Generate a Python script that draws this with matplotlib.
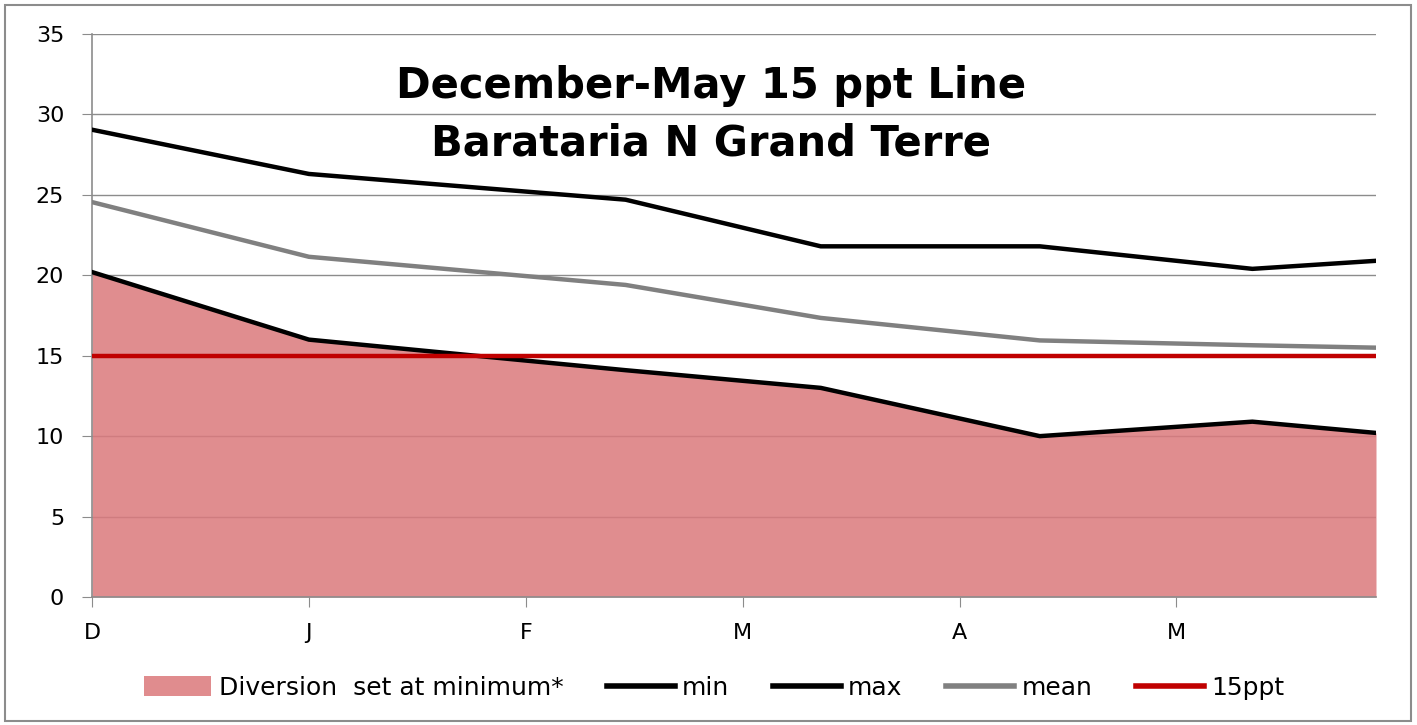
import matplotlib
matplotlib.use("Agg")
import matplotlib.pyplot as plt
from matplotlib.patches import Rectangle, Patch
from matplotlib.lines import Line2D

plt.rcParams['font.family'] = ['DejaVu Sans']

# data (x in months since start of December)
x_pos = [0.0, 1.0, 2.46, 3.36, 4.37, 5.35, 5.92]
min_vals = [20.2, 16.0, 14.1, 13.0, 10.0, 10.9, 10.2]
max_vals = [29.05, 26.3, 24.7, 21.8, 21.8, 20.4, 20.9]
mean_vals = [24.55, 21.15, 19.4, 17.35, 15.95, 15.65, 15.5]
threshold = 15
month_ticks = [0, 1, 2, 3, 4, 5]
month_labels = ['D', 'J', 'F', 'M', 'A', 'M']
title_lines = ['December-May 15 ppt Line', 'Barataria N Grand Terre']
legend_labels = ['Diversion  set at minimum*', 'min', 'max', 'mean', '15ppt']

W, H = 1417, 725
fig = plt.figure(figsize=(W / 100, H / 100), dpi=100)
ax = fig.add_axes([92 / W, 1 - 597 / H, (1376 - 92) / W, (597 - 34) / H])

fill_c = '#E08C8E'
ax.fill_between(x_pos, 0, min_vals, color='#DB7A7D', alpha=0.86, lw=0, zorder=1)
ax.plot(x_pos, min_vals, color='black', lw=3.2, zorder=3, solid_joinstyle='round')
ax.plot(x_pos, max_vals, color='black', lw=3.2, zorder=3, solid_joinstyle='round')
ax.plot(x_pos, mean_vals, color='#808080', lw=3.2, zorder=3, solid_joinstyle='round')
ax.plot([x_pos[0], x_pos[-1]], [threshold, threshold], color='#C00000', lw=3.2, zorder=4)

ax.set_xlim(x_pos[0], x_pos[-1])
ax.set_ylim(0, 35)
ax.set_yticks(range(0, 36, 5))
ax.set_xticks(month_ticks)
ax.set_xticklabels(month_labels)
ax.yaxis.grid(True, color='#8C8C8C', lw=1, zorder=0.5)
ax.set_axisbelow(True)

for s in ['top', 'right']:
    ax.spines[s].set_visible(False)
for s in ['left', 'bottom']:
    ax.spines[s].set_color('#8C8C8C')
    ax.spines[s].set_linewidth(1.2)
ax.tick_params(axis='y', length=7, color='#8C8C8C', labelsize=16, pad=13, direction='out')
ax.tick_params(axis='x', length=7, color='#8C8C8C', labelsize=16, pad=12, direction='out')

fig.text(711 / W, 1 - 98 / H, title_lines[0], ha='center', va='baseline',
         fontsize=30, fontweight='bold')
fig.text(711 / W, 1 - 155 / H, title_lines[1], ha='center', va='baseline',
         fontsize=30, fontweight='bold')

handles = [Patch(facecolor=fill_c, edgecolor='none'),
           Line2D([], [], color='black', lw=4),
           Line2D([], [], color='black', lw=4),
           Line2D([], [], color='#808080', lw=4),
           Line2D([], [], color='#C00000', lw=4)]
fig.legend(handles, legend_labels, loc='center', bbox_to_anchor=(714 / W, 1 - 688 / H), ncol=5,
           frameon=False, fontsize=18, handlelength=2.7, handleheight=0.85,
           handletextpad=0.3, columnspacing=1.75, borderpad=0)

fig.add_artist(Rectangle((5 / W, 4 / H), 1406 / W, 716 / H, transform=fig.transFigure,
                         fill=False, edgecolor='#8C8C8C', lw=1.5))

fig.savefig('out.png', dpi=100)
